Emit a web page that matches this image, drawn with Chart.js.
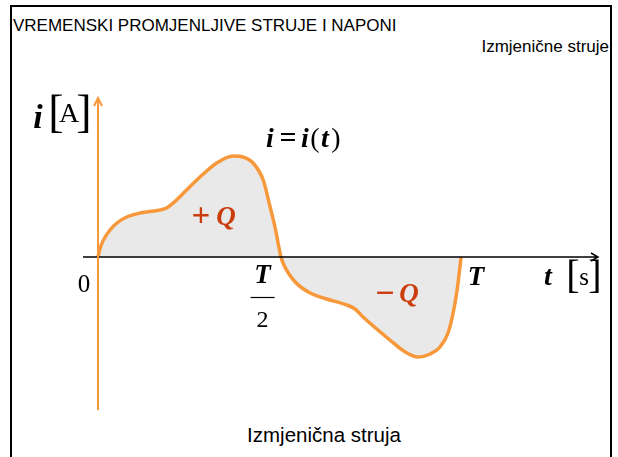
<!DOCTYPE html>
<html>
<head>
<meta charset="utf-8">
<script src="https://cdn.jsdelivr.net/npm/chart.js@4"></script>
<style>
    html, body { margin: 0; padding: 0; background: #fff; }
    #wrap { position: relative; width: 618px; height: 457px; overflow: hidden; }
    #okvir { position: absolute; left: 10px; top: 5px; width: 602px; height: 470px; border: 2px solid #000; box-sizing: border-box; }
    .txt { position: absolute; font-family: "Liberation Sans", Arial, sans-serif; color: #000; white-space: nowrap; }
    canvas { position: absolute; left: 0; top: 0; }
</style>
</head>
<body>
<div id="wrap">
    <div id="okvir"></div>
    <div class="txt" style="left:13px; top:16px; font-size:17px;">VREMENSKI PROMJENLJIVE STRUJE I NAPONI</div>
    <div class="txt" style="right:9px; top:37px; font-size:17px;">Izmjenične struje</div>
    <div class="txt" style="left:0; width:648px; text-align:center; top:423px; font-size:20.5px;">Izmjenična struja</div>
    <canvas id="grafik" width="618" height="457"></canvas>
</div>

<script>
// vrijeme u periodima T, struja u proizvoljnim jedinicama
const vrijeme = [0, 0.006, 0.015, 0.033, 0.052, 0.079, 0.116, 0.171, 0.189, 0.207, 0.244, 0.281, 0.327, 0.372, 0.399, 0.427, 0.455, 0.474, 0.488, 0.496, 0.504,
    0.512, 0.526, 0.543, 0.562, 0.590, 0.625, 0.685, 0.708, 0.730, 0.804, 0.846, 0.882, 0.915, 0.942, 0.964, 0.978, 0.989, 1.0];
const struja = [0, 0.09, 0.17, 0.27, 0.34, 0.40, 0.44, 0.47, 0.49, 0.54, 0.67, 0.80, 0.94, 1.01, 1.00, 0.94, 0.77, 0.50, 0.29, 0.14, 0,
    -0.08, -0.17, -0.25, -0.31, -0.37, -0.415, -0.48, -0.52, -0.60, -0.83, -0.95, -1.00, -0.97, -0.90, -0.76, -0.56, -0.33, 0];

const oznakeX = ['0', 'T/2', 'T'];
const vrijednostiX = [0, 0.5, 1];

const narancasta = '#f7993a';
const crvena = '#cc3d0e';
const serif = '"Liberation Serif", "Times New Roman", serif';

function tekst(ctx, s, x, y, font, boja, align) {
    ctx.font = font;
    ctx.fillStyle = boja || '#000';
    ctx.textAlign = align || 'center';
    ctx.textBaseline = 'alphabetic';
    ctx.fillText(s, x, y);
}

const ukrasi = {
    id: 'ukrasi',
    afterDatasetsDraw(chart) {
        const ctx = chart.ctx;
        const xs = chart.scales.x, ys = chart.scales.y;
        const a = chart.chartArea;
        const x0 = xs.getPixelForValue(0);
        const y0 = ys.getPixelForValue(0);

        ctx.save();
        // os t
        ctx.strokeStyle = '#000';
        ctx.lineWidth = 1.5;
        ctx.beginPath();
        ctx.moveTo(a.left, y0);
        ctx.lineTo(a.right, y0);
        ctx.moveTo(a.right - 7, y0 - 4);
        ctx.lineTo(a.right, y0);
        ctx.lineTo(a.right - 7, y0 + 4);
        ctx.stroke();

        // os i
        ctx.strokeStyle = narancasta;
        ctx.lineWidth = 2;
        ctx.beginPath();
        ctx.moveTo(x0, a.bottom);
        ctx.lineTo(x0, a.top);
        ctx.moveTo(x0 - 4, a.top + 8);
        ctx.lineTo(x0, a.top);
        ctx.lineTo(x0 + 4, a.top + 8);
        ctx.stroke();

        // oznake na osi t
        const bold = 'italic bold 27px ' + serif;
        tekst(ctx, oznakeX[0], xs.getPixelForValue(vrijednostiX[0]) - 14, 292, '25px ' + serif);
        const xp = xs.getPixelForValue(vrijednostiX[1]) - 17;
        const dijelovi = oznakeX[1].split('/');
        tekst(ctx, dijelovi[0], xp, 283, bold);
        ctx.strokeStyle = '#000';
        ctx.lineWidth = 1.2;
        ctx.beginPath();
        ctx.moveTo(xp - 12, 297.5);
        ctx.lineTo(xp + 12, 297.5);
        ctx.stroke();
        tekst(ctx, dijelovi[1], xp, 327, '24px ' + serif);
        tekst(ctx, oznakeX[2], xs.getPixelForValue(vrijednostiX[2]) + 15, 285, bold);

        // t [s]
        tekst(ctx, 't', 548, 285, 'italic bold 28px ' + serif);
        tekst(ctx, '[', 573, 288, '40px ' + serif);
        tekst(ctx, 's', 584, 285, '25px ' + serif);
        tekst(ctx, ']', 595, 288, '40px ' + serif);

        // i [A]
        tekst(ctx, 'i', 38, 128, 'italic bold 34px ' + serif);
        tekst(ctx, '[', 56, 127, '46px ' + serif);
        tekst(ctx, 'A', 69, 122, '28px ' + serif);
        tekst(ctx, ']', 84, 127, '46px ' + serif);

        // i = i(t)
        const f = 'italic bold 28px ' + serif;
        tekst(ctx, 'i', 270, 147, f);
        tekst(ctx, '=', 288, 147, 'bold 30px ' + serif);
        tekst(ctx, 'i', 305, 147, f);
        tekst(ctx, '(', 315, 147, '28px ' + serif);
        tekst(ctx, 't', 325, 147, f);
        tekst(ctx, ')', 336, 147, '28px ' + serif);

        // naboji
        tekst(ctx, '+', 201, 226, 'bold 33px ' + serif, crvena);
        tekst(ctx, 'Q', 226, 225, 'italic bold 27px ' + serif, crvena);
        tekst(ctx, '\u2212', 385, 304, 'bold 34px ' + serif, crvena);
        tekst(ctx, 'Q', 409, 302, 'italic bold 27px ' + serif, crvena);
        ctx.restore();
    }
};

new Chart(document.getElementById('grafik'), {
    type: 'line',
    data: {
        datasets: [{
            data: vrijeme.map((t, k) => ({ x: t, y: struja[k] })),
            borderColor: narancasta,
            borderWidth: 3.5,
            backgroundColor: '#e9e9e9',
            fill: 'origin',
            pointRadius: 0,
            cubicInterpolationMode: 'monotone'
        }]
    },
    options: {
        responsive: false,
        animation: false,
        layout: { padding: { left: 83, right: 20, top: 98, bottom: 47 } },
        plugins: { legend: { display: false }, tooltip: { enabled: false } },
        scales: {
            x: { type: 'linear', min: -0.0413, max: 1.377, display: false },
            y: { type: 'linear', min: -1.53, max: 1.59, display: false }
        }
    },
    plugins: [ukrasi]
});
</script>
</body>
</html>
